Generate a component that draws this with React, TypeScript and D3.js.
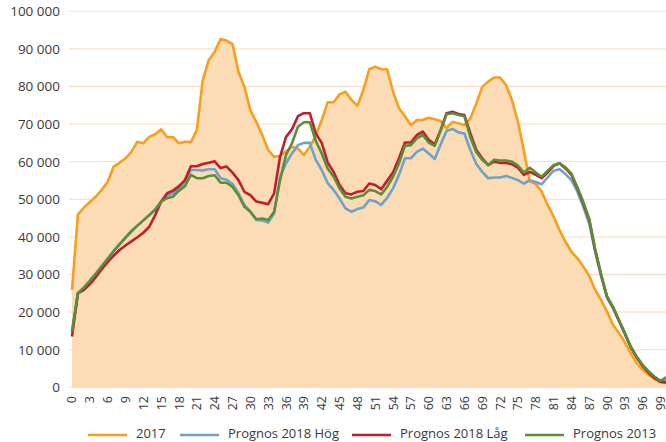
import React, { useRef, useEffect } from "react";
import * as d3 from "d3";

// ages 0..100
const ages = d3.range(0, 101);

const y2017 = [
  25900, 46000, 47800, 49300, 50700, 52500, 54600, 58700, 59700, 60900,
  62600, 65300, 64900, 66600, 67300, 68600, 66500, 66500, 64900, 65300,
  65200, 68400, 81700, 87000, 89200, 92600, 92200, 91300, 83900, 79900,
  73700, 70600, 67100, 63100, 61300, 61500, 62700, 64000, 63500, 61800,
  64000, 66900, 71000, 75800, 75800, 77900, 78600, 76400, 74900, 79000,
  84600, 85300, 84600, 84600, 78600, 74200, 72100, 69700, 71100, 71100,
  71700, 71300, 70800, 68900, 70600, 70200, 69700, 71500, 75500, 79900,
  81300, 82400, 82400, 80400, 76400, 70600, 63000, 54700, 54100, 52000,
  48500, 45400, 41800, 38700, 36100, 34300, 32100, 29600, 25900, 23200,
  20100, 16600, 14400, 11900, 9000, 6400, 4600, 3300, 2200, 1500,
  1100,
];

const hog2018 = [
  14800, 25000, 26500, 28300, 30200, 32200, 34200, 36200, 38000, 39800,
  41500, 43000, 44400, 45800, 47300, 49400, 51000, 51600, 52900, 54700,
  57800, 57800, 57700, 58000, 58000, 55600, 55200, 54100, 51600, 48500,
  46700, 44500, 44400, 43800, 46300, 56000, 59600, 62200, 64400, 65000,
  65000, 60500, 57800, 54300, 52500, 50200, 47600, 46700, 47400, 47800,
  49800, 49500, 48500, 50400, 52900, 56500, 60900, 60900, 62600, 63500,
  62200, 60700, 64600, 68200, 68700, 67800, 67500, 63100, 59400, 57300,
  55600, 55800, 55800, 56200, 55700, 55100, 54200, 55100, 54600, 54000,
  55800, 57600, 58000, 56700, 55100, 52000, 48000, 43500, 36000, 29500,
  23800, 21000, 17600, 14200, 10600, 7900, 5700, 4000, 2600, 1600,
  1800,
];

const lag2018 = [
  13500, 25000, 25900, 27400, 29300, 31400, 33300, 35000, 36500, 37700,
  38800, 39900, 41100, 42700, 45800, 49400, 51600, 52300, 53500, 55100,
  58800, 58800, 59400, 59700, 60100, 58300, 58700, 57100, 55100, 52000,
  51100, 49400, 49100, 48700, 51600, 61300, 66600, 68600, 72100, 72900,
  72900, 67500, 65000, 59800, 57300, 53800, 51600, 51300, 52000, 52200,
  54200, 53800, 52700, 54900, 57200, 60900, 65100, 65100, 67100, 68000,
  65800, 64600, 68400, 72900, 73300, 72700, 72400, 67500, 63100, 60900,
  59100, 60000, 59700, 59700, 59300, 58400, 56500, 57300, 56500, 55600,
  57100, 58900, 59600, 58200, 56500, 52900, 48900, 44500, 36400, 29800,
  24000, 21200, 17700, 14200, 10600, 7900, 5600, 3800, 2400, 1400,
  1300,
];

const prog2013 = [
  14800, 25000, 26500, 28300, 30200, 32200, 34200, 36200, 38000, 39800,
  41500, 43000, 44400, 45800, 47300, 49400, 50300, 50700, 52300, 53500,
  56500, 55600, 55600, 56200, 56400, 54400, 54400, 53300, 51100, 48000,
  46700, 44700, 44900, 44500, 46700, 55100, 61800, 64900, 69300, 70500,
  70500, 65500, 62200, 58200, 56000, 52900, 50700, 50200, 50700, 51100,
  52500, 52200, 51300, 53300, 56000, 59600, 64200, 64400, 66200, 67100,
  65100, 64200, 68200, 72600, 72900, 72400, 72100, 66500, 62500, 60500,
  59100, 60500, 60300, 60300, 60000, 59000, 57100, 58400, 57100, 56000,
  57600, 59100, 59600, 58500, 56800, 53200, 49300, 44700, 36700, 30000,
  24100, 21400, 17900, 14400, 10800, 8100, 5900, 4200, 2800, 1700,
  2700,
];

const yTicks = d3.range(0, 100001, 10000);
const seriesNames = ["2017", "Prognos 2018 Hög", "Prognos 2018 Låg", "Prognos 2013"];
const seriesColors = ["#F6A01E", "#6EA2CD", "#BE1E2D", "#5C8E38"];
const legendX = [88, 180, 352, 525];

export default function App() {
  const ref = useRef<SVGSVGElement>(null);

  useEffect(() => {
    const svg = d3.select(ref.current);
    svg.selectAll("*").remove();

    const W = 666;
    const left = 69;
    const x = d3.scaleBand<number>().domain(ages).range([left, left + 101 * 5.946]).padding(0);
    const cx = (a: number) => (x(a) as number) + x.bandwidth() / 2;
    const y = d3.scaleLinear().domain([0, 100000]).range([387.3, 11.3]);
    const font = "'Open Sans', 'Noto Sans', sans-serif";

    // gridlines (behind the area)
    svg
      .append("g")
      .selectAll("line")
      .data(yTicks)
      .enter()
      .append("line")
      .attr("x1", left)
      .attr("x2", W)
      .attr("y1", (d) => y(d))
      .attr("y2", (d) => y(d))
      .style("stroke", "#FCE2C6")
      .style("stroke-width", 1.3);

    // area 2017
    const area = d3
      .area<number>()
      .x((d, i) => cx(ages[i]))
      .y0(y(0))
      .y1((d) => y(d));
    svg.append("path").datum(y2017).attr("d", area).style("fill", "#FCDCB4");

    // y labels
    svg
      .append("g")
      .selectAll("text")
      .data(yTicks)
      .enter()
      .append("text")
      .attr("x", 60)
      .attr("y", (d) => y(d))
      .attr("dy", "0.36em")
      .attr("text-anchor", "end")
      .style("font-family", font)
      .style("font-size", "13.5px")
      .style("fill", "#3a3a3a")
      .text((d) => d3.format(",")(d).replace(/,/g, " "));

    // x labels
    svg
      .append("g")
      .selectAll("text")
      .data(ages.filter((a) => a % 3 === 0 && a <= 99))
      .enter()
      .append("text")
      .attr("transform", (d) => `translate(${cx(d)},396) rotate(-90)`)
      .attr("dy", "0.36em")
      .attr("text-anchor", "end")
      .style("font-family", font)
      .style("font-size", "12.5px")
      .style("fill", "#3a3a3a")
      .text((d) => String(d));

    const line = d3
      .line<number>()
      .x((d, i) => cx(ages[i]))
      .y((d) => y(d));

    [y2017, hog2018, lag2018, prog2013].forEach((s, k) => {
      svg
        .append("path")
        .datum(s)
        .attr("d", line)
        .style("fill", "none")
        .style("stroke", seriesColors[k])
        .style("stroke-width", 2.6)
        .style("stroke-linejoin", "round");
    });

    // legend
    const lg = svg.append("g");
    seriesNames.forEach((name, k) => {
      lg.append("line")
        .attr("x1", legendX[k])
        .attr("x2", legendX[k] + 39)
        .attr("y1", 435)
        .attr("y2", 435)
        .style("stroke", seriesColors[k])
        .style("stroke-width", 2.6);
      lg.append("text")
        .attr("x", legendX[k] + 48)
        .attr("y", 434)
        .attr("dy", "0.34em")
        .style("font-family", font)
        .style("font-size", "13px")
        .style("fill", "#3a3a3a")
        .text(name);
    });
  }, []);

  return (
    <div style={{ position: "absolute", left: 0, top: 0 }}>
      <svg ref={ref} width="666" height="442" style={{ display: "block" }}></svg>
    </div>
  );
}
